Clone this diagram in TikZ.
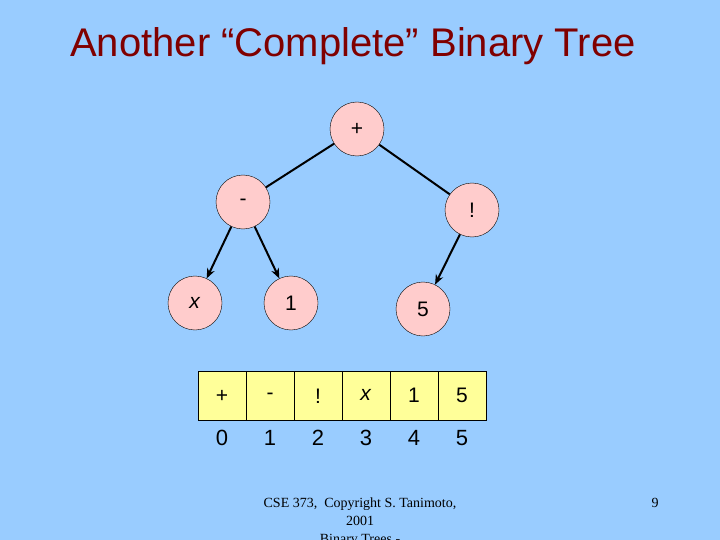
\documentclass[tikz,border=0pt]{standalone}
\usepackage{fontspec}
\setmainfont{Liberation Sans}
\newfontfamily\serifft{Liberation Serif}
\usetikzlibrary{arrows.meta, chains, positioning}
\definecolor{bgblue}{HTML}{99CCFF}
\definecolor{titlered}{HTML}{800000}
\definecolor{nodepink}{HTML}{FFCCCC}
\definecolor{cellyellow}{HTML}{FFFF99}

\begin{document}
\begin{tikzpicture}[x=1pt, y=-1pt,
node distance = 0mm,
  start chain = going right,
   vtx/.style = {circle, draw, fill=nodepink, minimum size=54pt,
                 inner sep=0pt, font=\fontsize{21}{23}\selectfont},
  cell/.style = {draw, fill=cellyellow, minimum width=48pt, minimum height=49pt,
                 inner sep=0pt, outer sep=0pt, font=\fontsize{21}{23}\selectfont,
                 on chain},
   idx/.style = {font=\fontsize{22}{24}\selectfont},
   arr/.style = {line width=2pt, -{Stealth[length=10pt,width=8pt]}},
   lnk/.style = {line width=2pt}
                        ]
\fill[bgblue] (0,0) rectangle (720,540);
\useasboundingbox (0,0) rectangle (720,540);
    % title
\node (title) [text=titlered, font=\fontsize{40}{44}\selectfont] at (353,46)
    {Another “Complete” Binary Tree};
    % tree
\node (n0) [vtx] at (357,129) {+};
\node (n1) [vtx] at (243,202) {-};
\node (n2) [vtx] at (472,210) {!};
\node (n3) [vtx] at (195,303) {\textit{x}};
\node (n4) [vtx] at (291,303) {1};
\node (n5) [vtx] at (423,309) {5};
\draw[lnk] (n0) -- (n1);
\draw[lnk] (n0) -- (n2);
\draw[arr] (n1) -- (n3);
\draw[arr] (n1) -- (n4);
\draw[arr] (n2) -- (n5);
    % array
\node (c0) [cell] at (222,396) {\raisebox{-4pt}{+}};
\node (c1) [cell] {-};
\node (c2) [cell] {\raisebox{-4pt}{!}};
\node (c3) [cell] {\raisebox{2pt}{\textit{x}}};
\node (c4) [cell] {\raisebox{2pt}{1}};
\node (c5) [cell] {\raisebox{2pt}{5}};
\foreach \i in {0,...,5}
    \node (k\i) [idx, below=6pt of c\i.south, anchor=north] {\i};
    % footer
\node (foot) [font=\serifft\fontsize{14}{18}\selectfont, align=center,
              anchor=north] at (360,494)
    {CSE 373,\ \ Copyright S. Tanimoto,\\2001\\Binary Trees -};
\node (page) [font=\serifft\fontsize{14}{16}\selectfont] at (655,503) {9};
\end{tikzpicture}
\end{document}
